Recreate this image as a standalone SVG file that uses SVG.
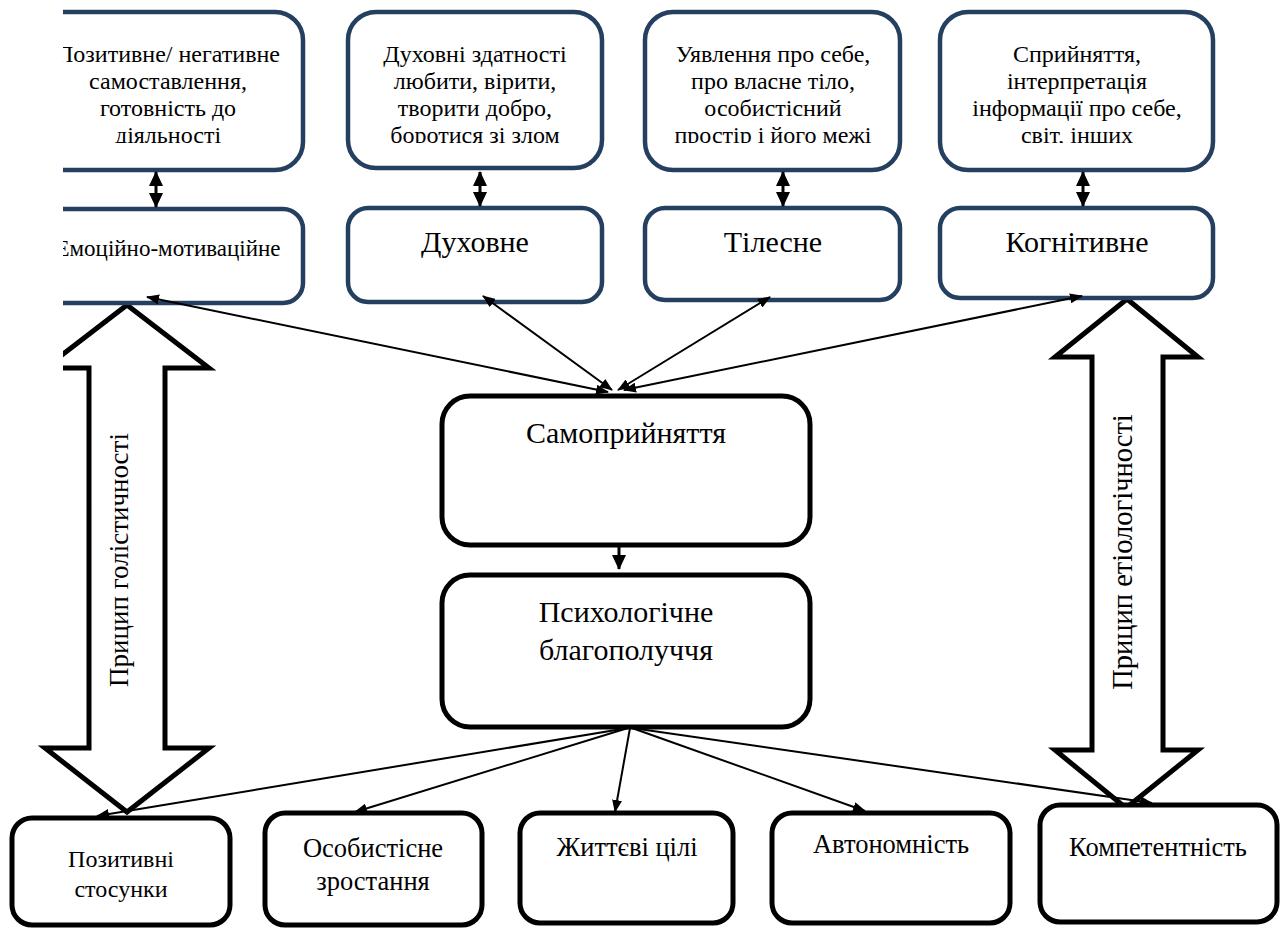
<svg xmlns="http://www.w3.org/2000/svg" width="1280" height="928" viewBox="0 0 1280 928">
<style>
.nb{fill:#fff;stroke:#243f60;stroke-width:4.5}
.bb{fill:#fff;stroke:#000;stroke-width:5}
text{font-family:"Liberation Serif","Times New Roman",serif;fill:#000;text-anchor:middle}
.s23{font-size:23px}
.s24{font-size:24px}
.s26{font-size:26.5px}
.s27{font-size:27px}
.s285{font-size:28.5px}
.s30{font-size:30px}
.c{stroke:#000;stroke-width:2;fill:none}
.c3{stroke:#000;stroke-width:3;fill:none}
.ha{fill:#fff;stroke:#000;stroke-width:5;stroke-linejoin:miter}
</style>
<defs>
<marker id="ah" viewBox="0 0 13 10" refX="12" refY="5" markerWidth="13" markerHeight="10" markerUnits="userSpaceOnUse" orient="auto-start-reverse"><path d="M0,0 L13,5 L0,10 z" fill="#000"/></marker>
<marker id="ah2" viewBox="0 0 15 14" refX="14" refY="7" markerWidth="15" markerHeight="14" markerUnits="userSpaceOnUse" orient="auto-start-reverse"><path d="M0,0 L15,7 L0,14 z" fill="#000"/></marker>
<clipPath id="cropL"><path d="M63,0H1280V928H0V380H63Z"/></clipPath>
<clipPath id="txtClip"><rect x="0" y="0" width="1280" height="143"/></clipPath>
</defs>

<g id="principles">
<g id="holistic" clip-path="url(#cropL)">
<path class="ha" d="M127,305 L209,368 L165,368 L165,748 L209,748 L127,812 L45,748 L89,748 L89,368 L45,368 Z"/>
<text class="s27" transform="translate(128,560) rotate(-90)">Прицип голістичності</text>
</g>
<g id="etiologic">
<path class="ha" d="M1127,299 L1198,357 L1163,357 L1163,750 L1198,750 L1126,808 L1055,750 L1092,750 L1092,357 L1055,357 Z"/>
<text class="s285" transform="translate(1132,552) rotate(-90)">Прицип етіологічності</text>
</g>
</g>

<g id="top1" clip-path="url(#cropL)">
<rect class="nb" x="33" y="12" width="270" height="158" rx="28"/>
<g clip-path="url(#txtClip)">
<text class="s24" x="168" y="62">Позитивне/ негативне</text>
<text class="s24" x="168" y="89">самоставлення,</text>
<text class="s24" x="168" y="116">готовність до</text>
<text class="s24" x="168" y="143">діяльності</text>
</g>
</g>
<g id="top2">
<rect class="nb" x="348" y="12" width="254" height="156" rx="28"/>
<g clip-path="url(#txtClip)">
<text class="s24" x="475" y="62">Духовні здатності</text>
<text class="s24" x="475" y="89">любити, вірити,</text>
<text class="s24" x="475" y="116">творити добро,</text>
<text class="s24" x="475" y="143">боротися зі злом</text>
</g>
</g>
<g id="top3">
<rect class="nb" x="645" y="12" width="255" height="158" rx="28"/>
<g clip-path="url(#txtClip)">
<text class="s24" x="773" y="62">Уявлення про себе,</text>
<text class="s24" x="773" y="89">про власне тіло,</text>
<text class="s24" x="773" y="116">особистісний</text>
<text class="s24" x="773" y="143">простір і його межі</text>
</g>
</g>
<g id="top4">
<rect class="nb" x="940" y="12" width="273" height="158" rx="28"/>
<g clip-path="url(#txtClip)">
<text class="s24" x="1077" y="62">Сприйняття,</text>
<text class="s24" x="1077" y="89">інтерпретація</text>
<text class="s24" x="1077" y="116">інформації про себе,</text>
<text class="s24" x="1077" y="143">світ, інших</text>
</g>
</g>

<g id="emotional" clip-path="url(#cropL)">
<rect class="nb" x="33" y="209" width="270" height="94" rx="20"/>
<text class="s23" x="168" y="256">Емоційно-мотиваційне</text>
</g>
<g id="spiritual">
<rect class="nb" x="348" y="208" width="254" height="94" rx="20"/>
<text class="s30" x="475" y="252">Духовне</text>
</g>
<g id="bodily">
<rect class="nb" x="645" y="208" width="255" height="92" rx="20"/>
<text class="s30" x="773" y="252">Тілесне</text>
</g>
<g id="cognitive">
<rect class="nb" x="940" y="208" width="273" height="90" rx="20"/>
<text class="s30" x="1077" y="252">Когнітивне</text>
</g>

<g id="selfaccept">
<rect class="bb" x="442" y="396" width="368" height="149" rx="28"/>
<text class="s30" x="626" y="443">Самоприйняття</text>
</g>
<g id="wellbeing">
<rect class="bb" x="442" y="575" width="368" height="152" rx="28"/>
<text class="s30" x="626" y="622">Психологічне</text>
<text class="s30" x="626" y="660">благополуччя</text>
</g>

<g id="relations">
<rect class="bb" x="12" y="818" width="218" height="107" rx="20"/>
<text class="s24" x="121" y="867">Позитивні</text>
<text class="s24" x="121" y="897">стосунки</text>
</g>
<g id="growth">
<rect class="bb" x="265" y="813" width="217" height="112" rx="20"/>
<text class="s26" x="373" y="857">Особистісне</text>
<text class="s26" x="373" y="890">зростання</text>
</g>
<g id="goals">
<rect class="bb" x="520" y="813" width="213" height="110" rx="20"/>
<text class="s26" x="627" y="856">Життєві цілі</text>
</g>
<g id="autonomy">
<rect class="bb" x="772" y="813" width="238" height="110" rx="20"/>
<text class="s26" x="891" y="853">Автономність</text>
</g>
<g id="competence">
<rect class="bb" x="1040" y="805" width="237" height="117" rx="20"/>
<text class="s26" x="1158" y="856">Компетентність</text>
</g>

<g id="connectors">
<line class="c3" x1="156" y1="172" x2="156" y2="207" marker-start="url(#ah2)" marker-end="url(#ah2)"/>
<line class="c3" x1="480" y1="172" x2="480" y2="206" marker-start="url(#ah2)" marker-end="url(#ah2)"/>
<line class="c3" x1="783" y1="172" x2="783" y2="206" marker-start="url(#ah2)" marker-end="url(#ah2)"/>
<line class="c3" x1="1083" y1="172" x2="1083" y2="206" marker-start="url(#ah2)" marker-end="url(#ah2)"/>
<line class="c" x1="608" y1="392" x2="147" y2="297" marker-start="url(#ah)" marker-end="url(#ah)"/>
<line class="c" x1="612" y1="390" x2="483" y2="296" marker-start="url(#ah)" marker-end="url(#ah)"/>
<line class="c" x1="618" y1="390" x2="770" y2="297" marker-start="url(#ah)" marker-end="url(#ah)"/>
<line class="c" x1="624" y1="390" x2="1082" y2="296" marker-start="url(#ah)" marker-end="url(#ah)"/>
<line class="c3" x1="619" y1="547" x2="619" y2="569" marker-end="url(#ah2)"/>
<line class="c" x1="628" y1="728" x2="97" y2="816" marker-end="url(#ah)"/>
<line class="c" x1="628" y1="728" x2="355" y2="812" marker-end="url(#ah)"/>
<line class="c" x1="630" y1="728" x2="615" y2="812" marker-end="url(#ah)"/>
<line class="c" x1="632" y1="728" x2="865" y2="811" marker-end="url(#ah)"/>
<line class="c" x1="632" y1="728" x2="1152" y2="803" marker-end="url(#ah)"/>
</g>
</svg>
